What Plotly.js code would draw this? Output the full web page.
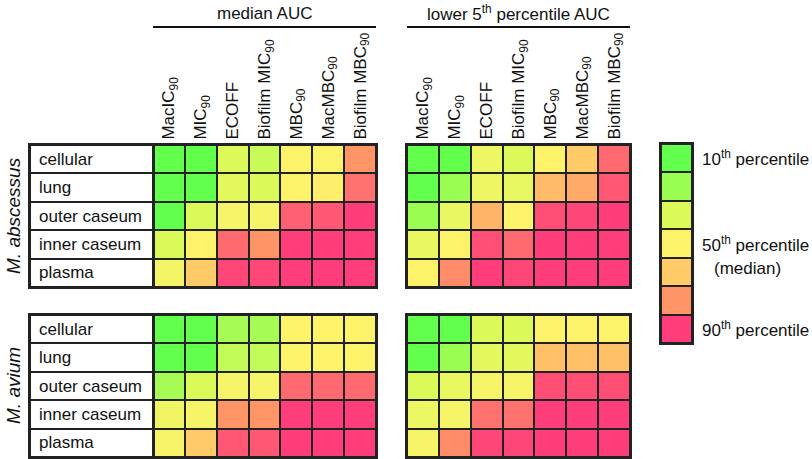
<!DOCTYPE html>
<html><head><meta charset="utf-8">
<script src="https://cdn.plot.ly/plotly-3.0.1.min.js"></script>
<style>body{margin:0;background:#fff}#c{width:812px;height:459px}</style>
</head><body><div id="c"></div>
<script>
const columns = ["MacIC<sub>90</sub>","MIC<sub>90</sub>","ECOFF","Biofilm MIC<sub>90</sub>","MBC<sub>90</sub>","MacMBC<sub>90</sub>","Biofilm MBC<sub>90</sub>"];
const rows = ["cellular","lung","outer caseum","inner caseum","plasma"];
const groupHeaders = ["median AUC","lower 5<sup>th</sup> percentile AUC"];
const species = ["<i>M. abscessus</i>","<i>M. avium</i>"];
// values on 1 (10th percentile) .. 7 (90th percentile) colour scale
const abscMedian = [
  [1,1,3.0,2.7,4,4,6.0],
  [1,1,3.2,3.0,4,4.1,6.4],
  [1,3.0,3.8,3.8,6.6,6.7,7],
  [3.0,4,6.5,6.0,7,7,7],
  [3.7,5,6.9,6.9,7,7,7]
];
const abscLower = [
  [1,1,3.5,3.0,4,5,6.5],
  [1,2,3.5,3.3,5.3,5.6,6.7],
  [2,3.4,5.4,4,6.8,6.9,7],
  [3.4,4,6.8,6.5,7,7,7],
  [4,6.1,7,6.9,7,7,7]
];
const aviumMedian = [
  [1,1,2.2,2.2,4,4,4],
  [1,1,2.6,2.6,4,4,4],
  [2.2,3.0,3.8,3.8,6.5,6.5,6.5],
  [3.6,3.8,6.0,6.0,7,7,7],
  [3.8,5.0,6.7,6.7,7,7,7]
];
const aviumLower = [
  [1,1,3.0,3.0,4,4,4],
  [1,2,3.2,3.2,5.2,5.2,5.2],
  [3.0,3.4,3.8,3.8,6.8,6.8,6.8],
  [3.5,3.8,6.4,6.4,7,7,7],
  [3.8,6.1,6.9,6.9,7,7,7]
];
const legendLevels = [1,2,3,4,5,6,7];
const legendNames = ["L1","L2","L3","L4","L5","L6","L7"];
const legendLabels = {L1:"10<sup>th</sup> percentile",L4:"50<sup>th</sup> percentile",L7:"90<sup>th</sup> percentile"};

const colorscale = [[0,'#63ff4d'],[1/6,'#99fd52'],[2/6,'#dcf95a'],[3/6,'#fdf36b'],[4/6,'#ffcb69'],[5/6,'#ff9466'],[1,'#ff3d7a']];
const FONT = "Liberation Sans, Arial, sans-serif";
const W=812,H=459;
const px = v=>v/W, py = v=>1-v/H;

const xL=[px(153),px(376)], xR=[px(407),px(630)], xLab=[px(30),px(153)], xLeg=[px(661),px(692)];
const yTop=[py(287),py(145)], yBot=[py(457),py(315)], yLeg=[py(343),py(144)];

function hm(z,xa,ya){
  return {type:'heatmap',z:z,x:columns,y:rows,xaxis:xa,yaxis:ya,colorscale:colorscale,zmin:1,zmax:7,
    showscale:false,xgap:2,ygap:2,hoverinfo:'skip'};
}
const labZ = rows.map(()=>[0]);
const traces = [
  hm(abscMedian,'x','y'), hm(abscLower,'x2','y2'), hm(aviumMedian,'x3','y3'), hm(aviumLower,'x4','y4'),
  {type:'heatmap',z:labZ,x:['label'],y:rows,xaxis:'x5',yaxis:'y5',colorscale:[[0,'#fff'],[1,'#fff']],showscale:false,xgap:2,ygap:2,hoverinfo:'skip'},
  {type:'heatmap',z:labZ,x:['label'],y:rows,xaxis:'x6',yaxis:'y6',colorscale:[[0,'#fff'],[1,'#fff']],showscale:false,xgap:2,ygap:2,hoverinfo:'skip'},
  {type:'heatmap',z:legendLevels.map(v=>[v]),x:['legend'],y:legendNames,xaxis:'x7',yaxis:'y7',colorscale:colorscale,zmin:1,zmax:7,showscale:false,xgap:2,ygap:2,hoverinfo:'skip'}
];

function xax(dom,anchor,labels){
  return {domain:dom,anchor:anchor,type:'category',side:'top',tickangle:-90,showticklabels:labels,ticks:'',
    showgrid:false,zeroline:false,showline:true,mirror:true,linecolor:'#222',linewidth:2,
    tickfont:{family:FONT,size:17,color:'#111'},fixedrange:true};
}
function yax(dom,anchor){
  return {domain:dom,anchor:anchor,type:'category',autorange:'reversed',showticklabels:false,ticks:'',
    showgrid:false,zeroline:false,showline:true,mirror:true,linecolor:'#222',linewidth:2,fixedrange:true};
}
const annotations = [];
const shapes = [];
[xL,xR].forEach((d,i)=>{
  annotations.push({xref:'paper',yref:'paper',x:(d[0]+d[1])/2,y:py(13),text:groupHeaders[i],showarrow:false,
    xanchor:'center',yanchor:'middle',font:{family:FONT,size:17,color:'#111'}});
  shapes.push({type:'line',xref:'paper',yref:'paper',x0:d[0],x1:d[1],y0:py(27),y1:py(27),line:{color:'#111',width:2}});
});
[['y5',yTop],['y6',yBot]].forEach(([ya,yd],i)=>{
  rows.forEach(r=>annotations.push({xref:'paper',yref:ya,x:px(37),y:r,text:r,showarrow:false,xanchor:'left',yanchor:'middle',
    font:{family:FONT,size:17,color:'#111'}}));
  annotations.push({xref:'paper',yref:'paper',x:px(13),y:(yd[0]+yd[1])/2,text:species[i],textangle:-90,showarrow:false,
    xanchor:'center',yanchor:'middle',font:{family:FONT,size:19,color:'#111'}});
});
Object.keys(legendLabels).forEach(k=>{
  annotations.push({xref:'paper',yref:'y7',x:px(700),y:k,text:legendLabels[k],showarrow:false,xanchor:'left',yanchor:'middle',
    font:{family:FONT,size:17,color:'#111'}});
});
annotations.push({xref:'paper',yref:'paper',x:px(712),y:py(268),text:'(median)',showarrow:false,xanchor:'left',yanchor:'middle',
  font:{family:FONT,size:17,color:'#111'}});

const layout = {
  width:W,height:H,margin:{l:0,r:0,t:0,b:0},paper_bgcolor:'#fff',plot_bgcolor:'#222',showlegend:false,
  xaxis:xax(xL,'y',true), yaxis:yax(yTop,'x'),
  xaxis2:xax(xR,'y2',true), yaxis2:yax(yTop,'x2'),
  xaxis3:xax(xL,'y3',false), yaxis3:yax(yBot,'x3'),
  xaxis4:xax(xR,'y4',false), yaxis4:yax(yBot,'x4'),
  xaxis5:xax(xLab,'y5',false), yaxis5:yax(yTop,'x5'),
  xaxis6:xax(xLab,'y6',false), yaxis6:yax(yBot,'x6'),
  xaxis7:xax(xLeg,'y7',false), yaxis7:yax(yLeg,'x7'),
  annotations:annotations, shapes:shapes
};
Plotly.newPlot('c',traces,layout,{staticPlot:true});
</script></body></html>
